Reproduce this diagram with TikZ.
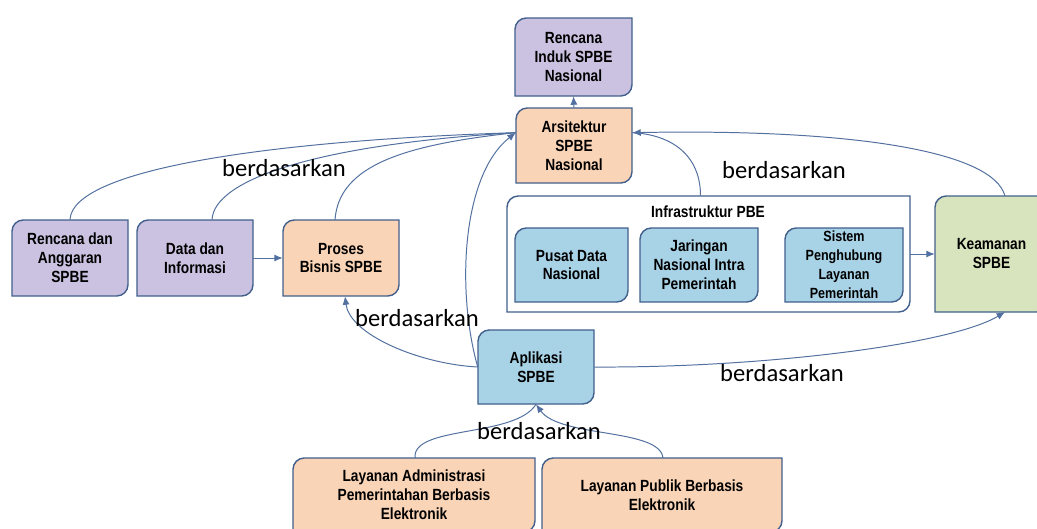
\documentclass[tikz,border=0pt]{standalone}
\usepackage{fontspec}
\setmainfont{Liberation Sans}
\newfontfamily\boxfont{Liberation Sans}[FakeStretch=0.85]
\newfontfamily\lblfont{Carlito}
\usetikzlibrary{arrows.meta,calc}
\definecolor{edgeblue}{RGB}{66,96,140}
\definecolor{lineblue}{RGB}{82,112,160}
\definecolor{lav}{RGB}{202,194,224}
\definecolor{peach}{RGB}{250,212,182}
\definecolor{lblue}{RGB}{168,210,230}
\definecolor{lgreen}{RGB}{215,228,190}
\tikzset{
  boxline/.style={draw=edgeblue, line width=1pt},
  boxtext/.style={draw=none, inner sep=0pt, align=center, text=black,
    font=\boxfont\bfseries\fontsize{11.5}{13.5}\selectfont},
  conn/.style={draw=lineblue, line width=0.7pt},
  arr/.style={conn, -{Latex[length=6pt,width=5pt]}},
  lbl/.style={font=\lblfont\fontsize{17.5}{20}\selectfont, text=black, inner sep=0pt}
}
\newcommand\mybox[7]{%
  \draw[boxline, fill=#6] (#2,{(#3+#5)/2}) {[rounded corners=8pt] -- (#2,#3) -- ({(#2+#4)/2},#3)} -- (#4,#3) -- (#4,{(#3+#5)/2}) {[rounded corners=8pt] -- (#4,#5) -- ({(#2+#4)/2},#5)} -- (#2,#5) -- cycle;
  \node[boxtext, minimum width={(#4-#2)*0.025cm}, minimum height={(#5-#3)*0.025cm}] (#1) at ({(#2+#4)/2},{(#3+#5)/2}) {#7};}
\begin{document}
\begin{tikzpicture}[x=0.025cm,y=-0.025cm]
\useasboundingbox (0,0) rectangle (1037,528);
\clip (0,0) rectangle (1037,528);
\fill[white] (0,0) rectangle (1037,528);

% boxes
\mybox{induk}{515}{18}{632}{96}{lav}{Rencana\\Induk SPBE\\Nasional}
\mybox{arch}{516}{108}{632}{183}{peach}{Arsitektur\\SPBE\\Nasional}
\mybox{rag}{12}{220}{128}{296}{lav}{Rencana dan\\Anggaran\\SPBE}
\mybox{data}{137}{220}{253}{296}{lav}{Data dan\\Informasi}
\mybox{proses}{283}{220}{399}{296}{peach}{Proses\\Bisnis SPBE}
\mybox{infra}{507}{196}{910}{312}{white}{}
\node[boxtext] (infralbl) at (708,212) {Infrastruktur PBE};
\mybox{pusat}{515}{228}{628}{302}{lblue}{Pusat Data\\Nasional}
\mybox{jar}{640}{228}{758}{302}{lblue}{Jaringan\\Nasional Intra\\Pemerintah}
\mybox{sis}{785}{228}{903}{302}{lblue}{\fontsize{10.5}{12}\selectfont Sistem\\\fontsize{10.5}{12}\selectfont Penghubung\\\fontsize{10.5}{12}\selectfont Layanan\\\fontsize{10.5}{12}\selectfont Pemerintah}
\mybox{keam}{935}{196}{1048}{312}{lgreen}{Keamanan\\SPBE}
\mybox{apl}{478}{330}{594}{404}{lblue}{Aplikasi\\SPBE}
\mybox{lad}{293}{458}{535}{532}{peach}{Layanan Administrasi\\Pemerintahan Berbasis\\Elektronik}
\mybox{lpb}{542}{458}{782}{532}{peach}{Layanan Publik Berbasis\\Elektronik}

% anchor points
\coordinate (archL) at ($(arch.north west)!0.33!(arch.south west)$);
\coordinate (archR) at ($(arch.north east)!0.33!(arch.south east)$);
\coordinate (aplL) at ($(apl.north west)!0.5!(apl.south west)$);
\coordinate (aplR) at ($(apl.north east)!0.5!(apl.south east)$);
\coordinate (dataT) at ($(data.north)+(17,0)$);
\coordinate (prosT) at ($(proses.north)+(-6,0)$);
\coordinate (prosB) at ($(proses.south)+(4,0)$);
\coordinate (infT) at ($(infra.north)+(-8,0)$);
\coordinate (keamT) at (1005,196);
\coordinate (keamB) at (1005,312);
\coordinate (ladT) at (415,458);
\coordinate (lpbT) at (663,458);

% connectors
\draw[arr] (arch.north) -- (induk.south);
\draw[conn] (rag.north) .. controls +(2,-50) and +(-250,8) .. (archL);
\draw[conn] (dataT) .. controls +(2,-40) and +(-200,12) .. (archL);
\draw[conn] (prosT) .. controls +(4,-55) and +(-110,12) .. (archL);
\draw[arr] (aplL) .. controls (456,290) and (462,175) .. (archL);
\draw[conn] (infT) .. controls +(0,-40) and +(40,2) .. (archR);
\draw[arr] (keamT) .. controls +(-12,-45) and +(220,-4) .. (archR);
\draw[arr] (data.east) -- (proses.west);
\draw[arr] (infra.east) -- (keam.west);
\draw[arr] (aplL) .. controls (420,364) and (350,335) .. (prosB);
\draw[arr] (aplR) .. controls (760,368) and (950,345) .. (keamB);
\draw[conn] (ladT) .. controls (412,425) and (515,438) .. (apl.south);
\draw[arr] (lpbT) .. controls (660,428) and (560,438) .. (apl.south);

% labels
\node[lbl] (l1) at (284,168) {berdasarkan};
\node[lbl] (l2) at (784,170) {berdasarkan};
\node[lbl] (l3) at (417,318) {berdasarkan};
\node[lbl] (l4) at (782,373) {berdasarkan};
\node[lbl] (l5) at (539,431) {berdasarkan};
\end{tikzpicture}
\end{document}
